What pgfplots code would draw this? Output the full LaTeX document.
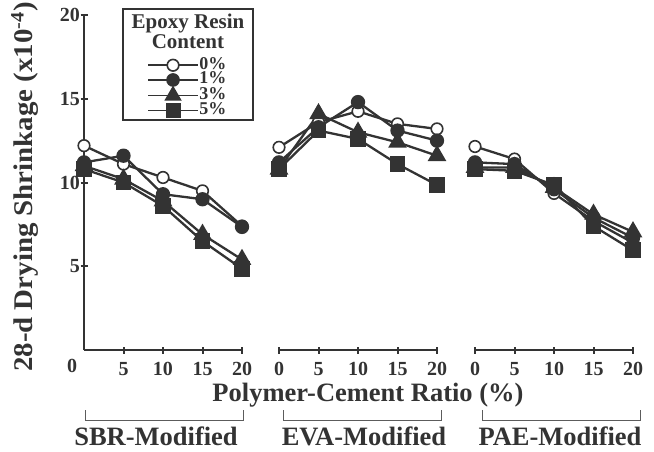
\documentclass[border=0pt]{standalone}
\usepackage{fontspec}
\setmainfont{Liberation Serif}
\usepackage{pgfplots}
\pgfplotsset{compat=1.18}
\definecolor{ink}{gray}{0.2}

\pgfplotsset{
 panel/.style={
  scale only axis, width=158pt, height=335pt,
  xmin=0, xmax=20, ymin=0, ymax=20,
  axis line style={line width=2.2pt, draw=ink},
  tick style={line width=2pt, draw=ink},
  major tick length=7pt, tick align=inside,
  /pgf/number format/assume math mode=true,
  ticklabel style={font=\fontsize{20}{20}\selectfont\bfseries, text=ink},
  xticklabel style={yshift=-5pt},
  yticklabel style={xshift=3pt},
  clip=false,
  every axis plot/.append style={line width=2.3pt, draw=ink},
 },
 s0/.style={mark=*, mark options={fill=white, draw=ink, line width=1.6pt, mark size=5.8pt}},
 s1/.style={mark=*, mark options={fill=ink, draw=ink, mark size=6pt}},
 s3/.style={mark=triangle*, mark options={fill=ink, draw=ink, mark size=8.5pt}},
 s5/.style={mark=square*, mark options={fill=ink, draw=ink, mark size=6.7pt}},
}

\begin{document}
\begin{tikzpicture}
\useasboundingbox (0pt,0pt) rectangle (654pt,451pt);

% ---------- SBR ----------
\begin{axis}[panel, at={(84pt,101pt)}, anchor=south west,
  axis x line=bottom, axis y line=left,
  x axis line style={-}, y axis line style={draw=none},
  xtick={5,10,15,20}, ytick={5,10,15,20},
  legend style={at={(0.399,0.873)}, anchor=north west, draw=none, fill=none,
    font=\fontsize{18}{18}\selectfont\bfseries, text=ink, inner sep=0pt,
    row sep=-0.3pt, nodes={inner sep=0.5pt, text height=11pt, text depth=3pt}},
  legend cell align=left,
  legend image code/.code={\draw[mark repeat=2, mark phase=2, #1, line width=1.6pt] plot coordinates {(0pt,0pt) (25pt,0pt) (50pt,0pt)};},
]
\draw[ink, line width=2.2pt] (rel axis cs:0,0) -- (rel axis cs:0,1);
\addplot[s0] coordinates {(0,12.2)(5,11.1)(10,10.3)(15,9.5)(20,7.4)};
\addplot[s1] coordinates {(0,11.2)(5,11.6)(10,9.3)(15,9.0)(20,7.35)};
\addplot[s3] coordinates {(0,11.0)(5,10.2)(10,8.9)(15,6.9)(20,5.4)};
\addplot[s5] coordinates {(0,10.8)(5,10.0)(10,8.6)(15,6.5)(20,4.85)};
\legend{0\%,1\%,3\%,5\%}
\end{axis}

% ---------- EVA ----------
\begin{axis}[panel, at={(279pt,101pt)}, anchor=south west,
  axis x line=bottom, axis y line=none, x axis line style={-},
  xtick={0,5,10,15,20}, ytick=\empty]
\addplot[s0] coordinates {(0,12.1)(5,13.6)(10,14.25)(15,13.5)(20,13.2)};
\addplot[s1] coordinates {(0,11.2)(5,13.3)(10,14.8)(15,13.1)(20,12.5)};
\addplot[s3] coordinates {(0,10.8)(5,14.1)(10,13.0)(15,12.4)(20,11.6)};
\addplot[s5] coordinates {(0,10.8)(5,13.1)(10,12.6)(15,11.1)(20,9.85)};
\end{axis}

% ---------- PAE ----------
\begin{axis}[panel, at={(475pt,101pt)}, anchor=south west,
  axis x line=bottom, axis y line=none, x axis line style={-},
  xtick={0,5,10,15,20}, ytick=\empty]
\addplot[s0] coordinates {(0,12.15)(5,11.4)(10,9.35)(15,7.7)(20,6.4)};
\addplot[s1] coordinates {(0,11.2)(5,11.1)(10,9.6)(15,7.9)(20,6.7)};
\addplot[s3] coordinates {(0,10.9)(5,10.9)(10,9.7)(15,8.1)(20,7.05)};
\addplot[s5] coordinates {(0,10.8)(5,10.7)(10,9.85)(15,7.4)(20,5.95)};
\end{axis}

% legend box and title
\draw[ink, line width=1.2pt] (123pt,442pt) rectangle (253pt,331pt);
\node[inner sep=0pt, text=ink, font=\fontsize{21}{21}\selectfont\bfseries] at (188pt,428pt) {Epoxy Resin};
\node[inner sep=0pt, text=ink, font=\fontsize{21}{21}\selectfont\bfseries] at (188pt,409pt) {Content};

% corner zero
\node[text=ink, font=\fontsize{20}{20}\selectfont\bfseries] at (72pt,85pt) {0};

% axis titles
\node[rotate=90, text=ink, font=\fontsize{27}{27}\selectfont\bfseries] at (25pt,264pt) {\scalebox{1.07}[1]{28-d Drying Shrinkage (x10\textsuperscript{-4})}};
\node[text=ink, font=\fontsize{26.5}{26.5}\selectfont\bfseries] at (368pt,56pt) {Polymer-Cement Ratio (\%)};

% group brackets
\draw[ink!80, line width=1pt] (85pt,41pt) -- (85pt,31pt) -- (243pt,31pt) -- (243pt,41pt);
\draw[ink!80, line width=1pt] (283pt,41pt) -- (283pt,31pt) -- (441pt,31pt) -- (441pt,41pt);
\draw[ink!80, line width=1pt] (482pt,41pt) -- (482pt,31pt) -- (640pt,31pt) -- (640pt,41pt);
\node[text=ink, anchor=base, inner sep=0pt, font=\fontsize{26.5}{26.5}\selectfont\bfseries] at (156pt,6pt) {SBR-Modified};
\node[text=ink, anchor=base, inner sep=0pt, font=\fontsize{26.5}{26.5}\selectfont\bfseries] at (364pt,6pt) {EVA-Modified};
\node[text=ink, anchor=base, inner sep=0pt, font=\fontsize{26.5}{26.5}\selectfont\bfseries] at (560pt,6pt) {PAE-Modified};
\end{tikzpicture}
\end{document}
